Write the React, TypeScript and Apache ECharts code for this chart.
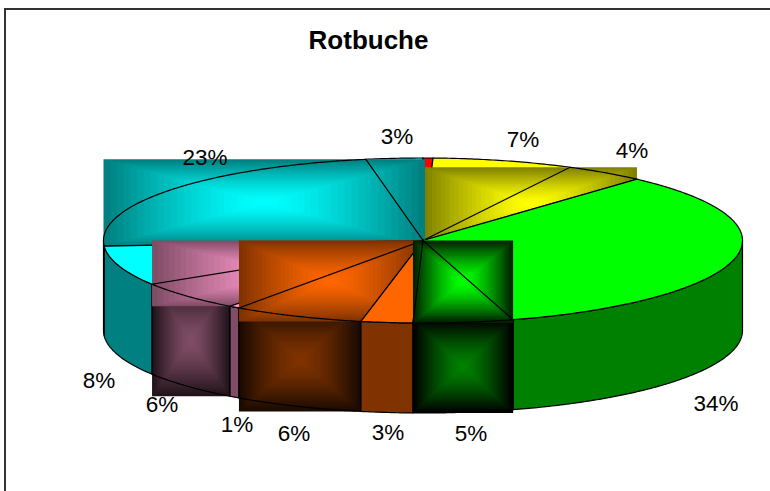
import React, { useEffect, useRef } from "react";
import * as echarts from "echarts";

// Clockwise from twelve o'clock
const sliceNames = ["red", "yellow7", "yellow4", "green34", "green5", "orange3", "orange6", "pink1", "pink6", "cyan8", "cyan23", "cyan3"];
const sliceValues = [0.5, 7.11, 4.07, 33.77, 5.05, 2.61, 6.66, 0.55, 5.79, 7.79, 23.24, 2.86];
const sliceLabels = ["", "7%", "4%", "34%", "5%", "3%", "6%", "1%", "6%", "8%", "23%", "3%"];
const chartTitle = "Rotbuche";

// Painter's order of the slices, back to front
const paintOrder = [11, 0, 1, 2, 3, 10, 9, 8, 7, 6, 5, 4];

const CX = 423, CY = 240.5, RX = 319.5, RY = 82.5, DEPTH = 90;

const topColors: Record<number, string> = {
  0: "#ff0000", 1: "#ffff00", 2: "#ffff00", 3: "#00ff00", 4: "#00ff00", 5: "#ff6600",
  6: "#ff6600", 7: "#ff99cc", 8: "#ff99cc", 9: "#00ffff", 10: "#00ffff", 11: "#00ffff",
};
const sideColors: Record<number, string> = {
  0: "#800000", 1: "#808000", 2: "#808000", 3: "#008000", 4: "#008000", 5: "#803300",
  6: "#803300", 7: "#804d66", 8: "#804d66", 9: "#008080", 10: "#008080", 11: "#008080",
};
// Slices filled with a rectangular gradient over their bounding box: [edge, centre]
const topGradients: Record<number, [string, string]> = {
  2: ["#808000", "#ffff00"],
  4: ["#002000", "#00ff00"],
  6: ["#803300", "#ff6600"],
  8: ["#804d66", "#ff99cc"],
  10: ["#008080", "#00ffff"],
};
const sideGradients: Record<number, [string, string]> = {
  4: ["#000000", "#008000"],
  6: ["#1a0a00", "#803300"],
  8: ["#201319", "#804d66"],
};
const boxPadRight: Record<number, number> = { 10: 2 };

const labelSpots: [number, number][] = [
  [0, 0], [523, 139], [632, 150], [716, 403], [471, 433], [388, 432],
  [294, 433], [237, 424], [162, 404], [99, 380], [205, 157], [397, 136],
];

const total = sliceValues.reduce((a, b) => a + b, 0);
const cumulative: number[] = [];
sliceValues.reduce((acc, v) => { cumulative.push(acc); return acc + v; }, 0);

const rad = (v: number) => (v / total) * Math.PI * 2;
const pt = (t: number, dy = 0): [number, number] => [CX + RX * Math.sin(t), CY - RY * Math.cos(t) + dy];
const arc = (a: number, b: number, dy = 0) => {
  const n = Math.max(2, Math.ceil((b - a) / 0.01));
  const out: [number, number][] = [];
  for (let i = 0; i <= n; i++) out.push(pt(a + ((b - a) * i) / n, dy));
  return out;
};
const hex = (c: string) => [1, 3, 5].map((i) => parseInt(c.slice(i, i + 2), 16));
const lerp = (a: string, b: string, f: number) => {
  const A = hex(a), B = hex(b);
  return `rgb(${A.map((v, i) => Math.round(v + (B[i] - v) * f)).join(",")})`;
};
const bbox = (pts: [number, number][]) => {
  const xs = pts.map((p) => p[0]), ys = pts.map((p) => p[1]);
  const x0 = Math.min(...xs), y0 = Math.min(...ys);
  return { x: x0, y: y0, w: Math.max(...xs) - x0, h: Math.max(...ys) - y0 };
};
const pyramid = (box: { x: number; y: number; w: number; h: number }, g: [string, string]) => {
  const steps = 24;
  const out: any[] = [];
  for (let i = 0; i < steps; i++) {
    const f = i / steps;
    const t = i / (steps - 1);
    out.push({
      type: "rect",
      shape: { x: box.x + (f * box.w) / 2, y: box.y + (f * box.h) / 2, width: box.w * (1 - f), height: box.h * (1 - f) },
      style: { fill: lerp(g[0], g[1], 1 - Math.pow(1 - t, 1.35)) },
    });
  }
  return out;
};
const outline = (points: [number, number][], fill: string | null) => ({
  type: "polygon",
  shape: { points },
  style: { fill: fill || "none", stroke: "#000", lineWidth: 1.2 },
});

function renderSlice(_: any, api: any) {
  const i = api.value(0);
  const a = rad(cumulative[i]);
  const b = a + rad(api.value(1));
  const children: any[] = [];

  // Outer wall: only the part of the rim on the viewer's side
  const s = Math.max(a, Math.PI / 2), e = Math.min(b, (Math.PI * 3) / 2);
  if (e > s) {
    const pts = [...arc(s, e), ...arc(s, e, DEPTH).reverse()];
    const g = sideGradients[i];
    if (g) children.push(...pyramid(bbox(pts), g));
    children.push(outline(pts, g ? null : sideColors[i]));
  }

  // Top face
  const top: [number, number][] = [[CX, CY], ...arc(a, b)];
  const g = topGradients[i];
  if (g) {
    const box = bbox(top);
    box.w += boxPadRight[i] || 0;
    children.push(...pyramid(box, g));
  }
  children.push(outline(top, g ? null : topColors[i]));
  return { type: "group", children };
}

export default function App() {
  const ref = useRef<HTMLDivElement>(null);
  useEffect(() => {
    document.body.style.margin = "0";
    const chart = echarts.init(ref.current!, null, { renderer: "svg" });
    chart.setOption({
      animation: false,
      backgroundColor: "#ffffff",
      title: {
        text: chartTitle,
        left: 363.5,
        top: 22,
        textAlign: "center",
        textStyle: { fontFamily: "Liberation Sans", fontWeight: "bold", fontSize: 26, color: "#000" },
      },
      series: [
        {
          type: "custom",
          coordinateSystem: "none",
          silent: true,
          renderItem: renderSlice,
          data: paintOrder.map((i) => ({ name: sliceNames[i], value: [i, sliceValues[i]] })),
        },
      ],
      graphic: [
        { type: "line", z: 100, shape: { x1: 5, y1: 9, x2: 770, y2: 9 }, style: { stroke: "#333", lineWidth: 2 } },
        { type: "line", z: 100, shape: { x1: 5, y1: 8, x2: 5, y2: 491 }, style: { stroke: "#333", lineWidth: 2 } },
        ...sliceLabels.map((text, i) =>
          text
            ? {
                type: "text",
                z: 100,
                x: labelSpots[i][0],
                y: labelSpots[i][1],
                style: { text, fill: "#000", font: '22.5px "Liberation Sans"', align: "center", verticalAlign: "middle" },
              }
            : null
        ).filter(Boolean),
      ],
    });
    return () => chart.dispose();
  }, []);
  return <div ref={ref} style={{ position: "absolute", left: 0, top: 0, width: 770, height: 491 }} />;
}
